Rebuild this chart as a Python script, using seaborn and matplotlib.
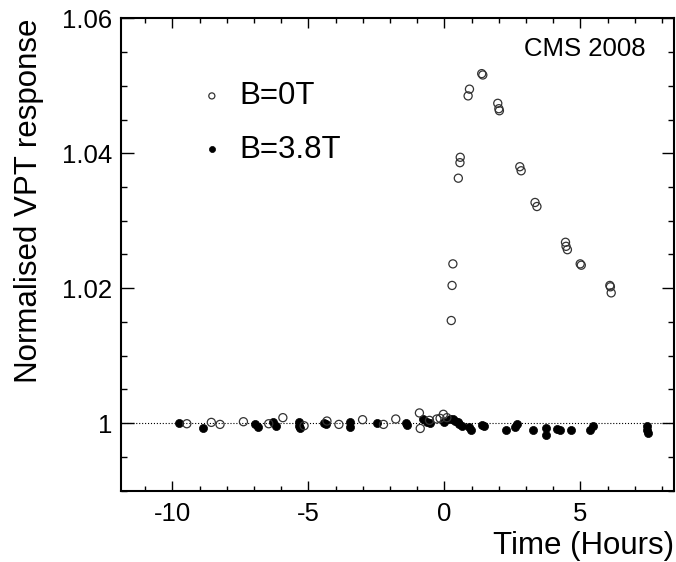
import numpy as np
import pandas as pd
import seaborn as sns
import matplotlib
matplotlib.use('Agg')
import matplotlib.pyplot as plt
from matplotlib.ticker import MultipleLocator

# B=0T, open circles (hours, normalised response)
t_b0 = [-9.47, -8.57, -8.25, -7.39, -6.46, -5.94, -5.16, -4.32, -3.88, -3.01, -2.24,
        -1.79, -0.92, -0.89, -0.55, -0.28, -0.16, -0.04, 0.09,
        0.25, 0.28, 0.31, 0.51, 0.57, 0.58, 0.87, 0.92, 1.37, 1.41,
        1.96, 2.02, 2.00, 2.77, 2.82, 3.33, 3.40, 4.45, 4.47, 4.52,
        4.99, 5.03, 6.08, 6.10, 6.13]
r_b0 = [0.9999, 1.0001, 0.9998, 1.0002, 0.9999, 1.0008, 0.9996, 1.0003, 0.9998, 1.0005, 0.9998,
        1.0006, 1.0015, 0.9992, 1.0004, 1.0006, 1.0007, 1.0013, 1.0008,
        1.0152, 1.0204, 1.0236, 1.0363, 1.0386, 1.0394, 1.0485, 1.0495, 1.0518, 1.0516,
        1.0474, 1.0463, 1.0466, 1.0380, 1.0374, 1.0327, 1.0321, 1.0268, 1.0262, 1.0257,
        1.0236, 1.0234, 1.0204, 1.0202, 1.0193]

# B=3.8T, filled dots
t_b38 = [-9.74, -8.88, -6.98, -6.87, -6.29, -6.21, -5.34, -5.34, -5.31, -4.42, -4.35,
         -3.49, -3.49, -2.49, -1.41, -1.38, -0.79, -0.65, -0.53, 0.0,
         0.21, 0.33, 0.40, 0.49, 0.55, 0.63, 0.92, 0.98, 1.37, 1.46,
         2.27, 2.60, 2.68, 3.25, 3.74, 3.74, 4.13, 4.23, 4.65, 5.36, 5.45,
         7.44, 7.46, 7.47]
r_b38 = [1.0000, 0.9992, 0.9998, 0.99935, 1.0001, 0.9996, 1.0002, 0.9995, 0.9993, 1.0000, 0.9998,
         1.0002, 0.9994, 1.0000, 1.0000, 0.9997, 1.0006, 1.0002, 1.0000, 1.0001,
         1.0006, 1.0006, 1.0003, 1.0001, 0.9999, 0.9996, 0.99935, 0.9989, 0.9997, 0.9996,
         0.9989, 0.9994, 0.9998, 0.9990, 0.9992, 0.9982, 0.9991, 0.9989, 0.9989, 0.9989, 0.9996,
         0.9995, 0.9989, 0.9985]

sns.set_style('ticks', {'axes.edgecolor': 'black', 'text.color': 'black',
                        'xtick.color': 'black', 'ytick.color': 'black',
                        'axes.labelcolor': 'black'})
plt.rcParams['font.family'] = ['Liberation Sans', 'DejaVu Sans']

fig = plt.figure(figsize=(6.76, 5.62), dpi=100)
ax = fig.add_axes([0.1786, 0.1272, 0.8189, 0.8402])

df38 = pd.DataFrame({'t': t_b38, 'r': r_b38})
df0 = pd.DataFrame({'t': t_b0, 'r': r_b0})

ax.axhline(1.0, color='black', lw=0.8, ls=':', zorder=1)
sns.scatterplot(data=df38, x='t', y='r', ax=ax, marker='o', s=34, color='black',
                edgecolor='black', linewidth=0.5, label='B=3.8T', zorder=3)
sns.scatterplot(data=df0, x='t', y='r', ax=ax, marker='o', s=34, facecolor='none',
                edgecolor='#333333', linewidth=0.9, label='B=0T', zorder=4)

ax.set_xlim(-11.9, 8.45)
ax.set_ylim(0.99, 1.06)
ax.xaxis.set_minor_locator(MultipleLocator(1))
ax.yaxis.set_minor_locator(MultipleLocator(0.005))
ax.set_xticks([-10, -5, 0, 5])
ax.set_xticklabels(['-10', '-5', '0', '5'])
ax.set_yticks([1.0, 1.02, 1.04, 1.06])
ax.set_yticklabels(['1', '1.02', '1.04', '1.06'])

ax.tick_params(which='both', direction='in', top=True, right=True, labelsize=18.5, width=1.0)
ax.tick_params(axis='x', which='major', length=7, pad=8)
ax.tick_params(axis='x', which='minor', length=3.5)
ax.tick_params(axis='y', which='major', length=9, pad=6)
ax.tick_params(axis='y', which='minor', length=4.5)
for sp in ax.spines.values():
    sp.set_linewidth(1.5)

ax.set_xlabel('Time (Hours)', fontsize=22.5, loc='right')
ax.set_ylabel('Normalised VPT response', fontsize=22.5, loc='top', labelpad=13)

ax.text(0.949, 0.935, 'CMS 2008', transform=ax.transAxes, ha='right', va='center', fontsize=18.5)

h, l = ax.get_legend_handles_labels()
ax.legend(h[::-1], l[::-1], loc='upper left', bbox_to_anchor=(0.142, 0.867), frameon=False,
          fontsize=22.5, handlelength=0.8, handletextpad=0.47, labelspacing=0.75,
          borderpad=0, borderaxespad=0, markerscale=0.75)

fig.savefig('out.png', dpi=100)
